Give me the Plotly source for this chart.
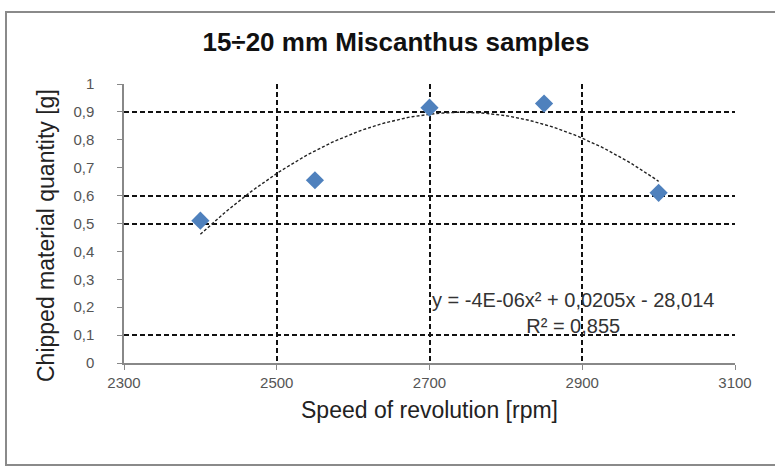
import numpy as np
import plotly.graph_objects as go

# Data
speed_rpm = [2400, 2550, 2700, 2850, 3000]
chipped_g = [0.51, 0.655, 0.915, 0.93, 0.61]

x_ticks = [2300, 2500, 2700, 2900, 3100]
y_ticks = [0, 0.1, 0.2, 0.3, 0.4, 0.5, 0.6, 0.7, 0.8, 0.9, 1.0]
y_tick_labels = ["0", "0,1", "0,2", "0,3", "0,4", "0,5", "0,6", "0,7", "0,8", "0,9", "1"]
y_grid_visible = [0.1, 0.5, 0.6, 0.9, 1.0]

title_text = "15÷20 mm Miscanthus samples"
x_title = "Speed of revolution [rpm]"
y_title = "Chipped material quantity [g]"
equation_text = "y = -4E-06x² + 0,0205x - 28,014<br>R² = 0,855"

# Polynomial (order 2) trendline fitted to the data, as the spreadsheet does
coef = np.polyfit(speed_rpm, chipped_g, 2)
trend_x = np.linspace(min(speed_rpm), max(speed_rpm), 120)
trend_y = np.polyval(coef, trend_x)

FONT = "Liberation Sans, Arial, sans-serif"
GRID_DASH = "5px,3px"

fig = go.Figure()
fig.add_trace(go.Scatter(
    x=trend_x, y=trend_y, mode="lines",
    line=dict(color="#222222", width=1.4, dash="3px,2px"),
    hoverinfo="skip", showlegend=False,
))
fig.add_trace(go.Scatter(
    x=speed_rpm, y=chipped_g, mode="markers",
    marker=dict(symbol="diamond", size=14, color="#4F81BD",
                line=dict(width=0)),
    showlegend=False,
))
# invisible trace to enable the grid-only secondary axis
fig.add_trace(go.Scatter(x=[None], y=[None], yaxis="y2", showlegend=False,
                         hoverinfo="skip"))

fig.update_layout(
    width=775, height=470,
    margin=dict(l=124, r=40, t=84, b=107),
    paper_bgcolor="white", plot_bgcolor="white",
    separators=", ",
    font=dict(family=FONT, color="#222222"),
    title=dict(text="<b>" + title_text + "</b>", x=396 / 775, xanchor="center",
               y=1 - 42 / 470, yanchor="middle",
               font=dict(size=26, family=FONT, color="#111111")),
    xaxis=dict(
        range=[2300, 3100], tickvals=x_ticks, ticktext=[str(v) for v in x_ticks],
        showgrid=True, gridcolor="#111111", gridwidth=1.5, griddash=GRID_DASH,
        showline=True, linecolor="#888888", linewidth=1.5,
        ticks="outside", ticklen=5, tickcolor="#888888",
        tickfont=dict(size=15, color="#555555"),
        zeroline=False,
        title=dict(text=x_title, font=dict(size=23, color="#222222"), standoff=12),
    ),
    yaxis=dict(
        range=[0, 1], tickvals=y_ticks, ticktext=y_tick_labels,
        showgrid=False,
        showline=True, linecolor="#888888", linewidth=1.5,
        ticks="outside", ticklen=5, tickcolor="#888888",
        tickfont=dict(size=15, color="#555555"),
        ticklabelstandoff=20,
        zeroline=False,
    ),
    yaxis2=dict(
        range=[0, 1], overlaying="y", side="left", tickvals=y_grid_visible,
        showticklabels=False, showgrid=True, gridcolor="#111111", gridwidth=1.5,
        griddash=GRID_DASH, zeroline=False, showline=False,
    ),
    annotations=[
        dict(text=y_title, textangle=-90, xref="paper", yref="paper",
             x=(46 - 124) / 611, y=(363 - 236) / 279, xanchor="center",
             yanchor="middle", showarrow=False,
             font=dict(size=23, color="#222222", family=FONT)),
        dict(text=equation_text, xref="paper", yref="paper",
             x=(573 - 124) / 611, y=(363 - 313) / 279, xanchor="center",
             yanchor="middle", showarrow=False, align="center",
             font=dict(size=20, color="#333333", family=FONT)),
    ],
    shapes=[
        dict(type="rect", xref="paper", yref="paper",
             x0=(6 - 124) / 611, x1=(790 - 124) / 611,
             y0=(363 - 465) / 279, y1=(363 - 12) / 279,
             line=dict(color="#8a8a8a", width=2), fillcolor="rgba(0,0,0,0)",
             layer="below"),
    ],
)

fig.write_html("out.html", config={"displayModeBar": False},
               post_script="document.body.style.margin='0px';")
